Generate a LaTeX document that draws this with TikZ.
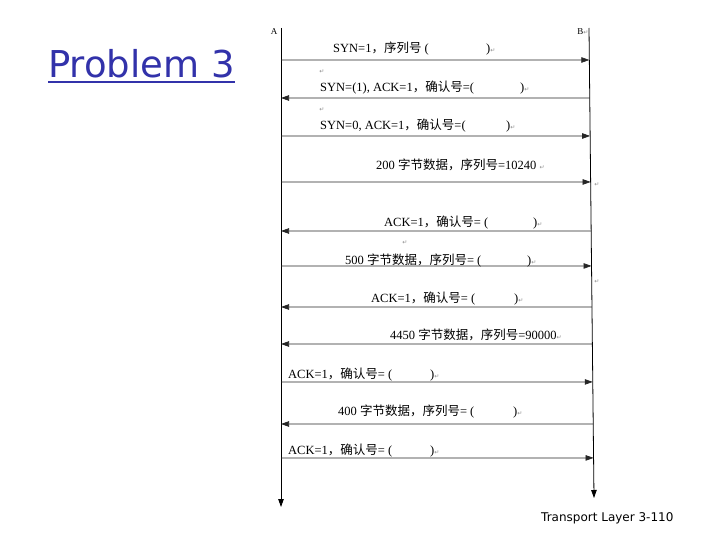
\documentclass[tikz,border=0pt]{standalone}
\usepackage{fontspec}
\setmainfont{Liberation Serif}
\newfontfamily\zhfont{Noto Sans CJK SC}
\newfontfamily\symfont{DejaVu Sans}
\usetikzlibrary{arrows.meta,calc}
\definecolor{titleblue}{RGB}{50,50,170}
\newcommand{\zh}[1]{{\zhfont #1}}
\newcommand{\ret}{{\symfont\color{black!45}\fontsize{6}{7}\selectfont ↵}}

\begin{document}
\begin{tikzpicture}[x=1pt,y=-1pt,
  lifeline/.style={draw=black,line width=0.8pt,-{Triangle[length=8pt,width=5.5pt]}},
  msg/.style={draw=black!85,line width=0.7pt,-{Triangle[length=8pt,width=5.5pt]}},
  msgtext/.style={anchor=base west,inner sep=0pt,font=\fontsize{12.5}{14}\selectfont},
  retmark/.style={inner sep=0pt}]
  \useasboundingbox (0,0) rectangle (720,540);

  % title and footer
  \node[anchor=base west,inner sep=0pt,text=titleblue,
        font=\symfont\fontsize{37}{40}\selectfont] (title) at (48,78) {Problem 3};
  \draw[titleblue,line width=2.5pt] ([yshift=-4pt]title.base west) -- ([yshift=-4pt]title.base east);
  \node[anchor=base west,inner sep=0pt,font=\symfont\fontsize{12}{14}\selectfont] (footer) at (541,521) {Transport Layer 3-110};

  % hosts and time lines
  \node[inner sep=0pt,font=\fontsize{9}{10}\selectfont] (A) at (274,32) {A};
  \node[inner sep=0pt,font=\fontsize{9}{10}\selectfont] (B) at (583,32) {B\ret};
  \coordinate (Atop) at (281,28);
  \coordinate (Abot) at (281,507);
  \coordinate (Btop) at (589,28);
  \coordinate (Bbot) at (594,498);
  \draw[lifeline] (Atop) -- (Abot);
  \draw[lifeline] (Btop) -- (Bbot);

  % segments
  \foreach \i/\y in {1/60,2/98,3/136,4/182,5/231,6/266,7/307,8/344,9/382,10/424,11/458}{
    \coordinate (a\i) at (281,\y);
    \coordinate (b\i) at ($(Btop)!(589,\y)!(Bbot)$);
  }
  \foreach \i/\s/\t in {1/a/b,2/b/a,3/a/b,4/a/b,5/b/a,6/a/b,7/b/a,8/b/a,9/a/b,10/b/a,11/a/b}
    \draw[msg] (\s\i) -- (\t\i);

  % labels
  \node[msgtext] (m1) at (333,53) {SYN=1\zh{，序列号} (};
  \node[msgtext] (c1) at (486,53) {)\ret};
  \node[msgtext] (m2) at (320,92) {SYN=(1), ACK=1\zh{，确认号}=(};
  \node[msgtext] (c2) at (520,92) {)\ret};
  \node[msgtext] (m3) at (320,130) {SYN=0, ACK=1\zh{，确认号}=(};
  \node[msgtext] (c3) at (506,130) {)\ret};
  \node[msgtext] (m4) at (376,170) {200 \zh{字节数据，序列号}=10240 \ret};
  \node[msgtext] (m5) at (384,226) {ACK=1\zh{，确认号}= (};
  \node[msgtext] (c5) at (533,226) {)\ret};
  \node[msgtext] (m6) at (345,264) {500 \zh{字节数据，序列号}= (};
  \node[msgtext] (c6) at (527,264) {)\ret};
  \node[msgtext] (m7) at (371,302) {ACK=1\zh{，确认号}= (};
  \node[msgtext] (c7) at (514,302) {)\ret};
  \node[msgtext] (m8) at (390,339) {4450 \zh{字节数据，序列号}=90000\ret};
  \node[msgtext] (m9) at (288,378) {ACK=1\zh{，确认号}= (};
  \node[msgtext] (c9) at (430,378) {)\ret};
  \node[msgtext] (m10) at (338,415) {400 \zh{字节数据，序列号}= (};
  \node[msgtext] (c10) at (513,415) {)\ret};
  \node[msgtext] (m11) at (288,454) {ACK=1\zh{，确认号}= (};
  \node[msgtext] (c11) at (430,454) {)\ret};

  % stray paragraph marks
  \foreach \x/\y [count=\k] in {322/72,322/110,405/243,597/185,597/282}
    \node[retmark] (r\k) at (\x,\y) {\ret};
\end{tikzpicture}
\end{document}
